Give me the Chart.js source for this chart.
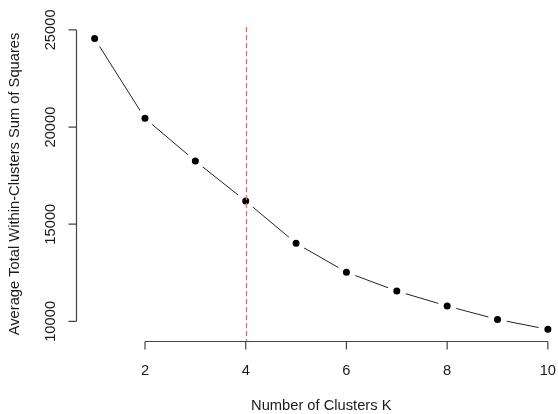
<!DOCTYPE html>
<html>
<head>
<meta charset="utf-8">
<script src="https://cdn.jsdelivr.net/npm/chart.js@4"></script>
<style>
  html, body { margin: 0; padding: 0; background: #fff; overflow: hidden; }
</style>
</head>
<body>
<canvas id="elbow" width="600" height="414" style="width:600px;height:414px"></canvas>
<script>
// Elbow plot data
const kValues = [1, 2, 3, 4, 5, 6, 7, 8, 9, 10];
const wss = [24550, 20450, 18250, 16190, 14020, 12530, 11560, 10790, 10100, 9590];
const xTicks = [2, 4, 6, 8, 10];
const yTicks = [10000, 15000, 20000, 25000];
const bestK = 4;

const FONT = '14.7px "Liberation Sans", Arial, sans-serif';
const INK = '#1a1a1a';

// base-R look: axes only between first and last tick, rotated y labels
const rAxes = {
  id: 'rAxes',
  afterDraw(chart) {
    const c = chart.ctx, x = chart.scales.x, y = chart.scales.y;
    const area = chart.chartArea;
    c.save();
    c.strokeStyle = '#444';
    c.lineWidth = 1.2;
    c.fillStyle = INK;
    c.font = FONT;

    // x axis
    const axY = area.bottom + 0.5;
    c.beginPath();
    c.moveTo(x.getPixelForValue(xTicks[0]), axY);
    c.lineTo(x.getPixelForValue(xTicks[xTicks.length - 1]), axY);
    xTicks.forEach(v => {
      const px = x.getPixelForValue(v);
      c.moveTo(px, axY);
      c.lineTo(px, axY + 8);
    });
    c.stroke();
    c.textAlign = 'center';
    c.textBaseline = 'alphabetic';
    xTicks.forEach(v => c.fillText(String(v), x.getPixelForValue(v), 375));

    // y axis
    const axX = area.left;
    c.beginPath();
    c.moveTo(axX, y.getPixelForValue(yTicks[0]));
    c.lineTo(axX, y.getPixelForValue(yTicks[yTicks.length - 1]));
    yTicks.forEach(v => {
      const py = y.getPixelForValue(v);
      c.moveTo(axX, py);
      c.lineTo(axX - 8, py);
    });
    c.stroke();
    yTicks.forEach(v => {
      c.save();
      c.translate(55, y.getPixelForValue(v));
      c.rotate(-Math.PI / 2);
      c.fillText(String(v), 0, 0);
      c.restore();
    });

    // axis titles
    c.fillText('Number of Clusters K', (area.left + area.right) / 2, 410);
    c.save();
    c.translate(18.5, (area.top + area.bottom) / 2);
    c.rotate(-Math.PI / 2);
    c.fillText('Average Total Within-Clusters Sum of Squares', 0, 0);
    c.restore();

    // dashed line at chosen k
    const kx = Math.round(x.getPixelForValue(bestK)) + 0.5;
    c.strokeStyle = '#f26666';
    c.lineWidth = 1.3;
    c.setLineDash([5, 3]);
    c.beginPath();
    c.moveTo(kx, area.top);
    c.lineTo(kx, area.bottom);
    c.stroke();
    c.restore();
  }
};

new Chart(document.getElementById('elbow'), {
  type: 'line',
  data: {
    datasets: [{
      data: kValues.map((k, i) => ({ x: k, y: wss[i] })),
      borderColor: '#222',
      borderWidth: 1,
      pointRadius: 6.5,
      pointBackgroundColor: '#000',
      pointBorderColor: '#fff',
      pointBorderWidth: 6,
      tension: 0
    }]
  },
  options: {
    responsive: false,
    animation: false,
    events: [],
    layout: { padding: { left: 76.5, right: 34, top: 27, bottom: 73 } },
    plugins: { legend: { display: false }, tooltip: { enabled: false } },
    scales: {
      x: { type: 'linear', display: false, min: 0.64, max: 10.36 },
      y: { type: 'linear', display: false, min: 8990, max: 25148 }
    }
  },
  plugins: [rAxes]
});
</script>
</body>
</html>
